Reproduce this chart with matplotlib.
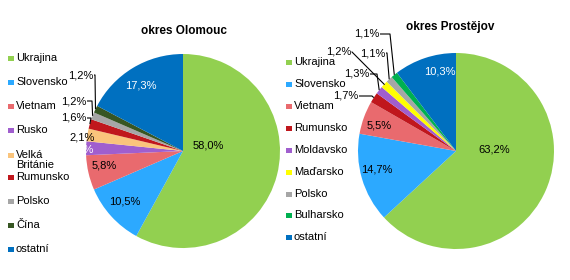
import numpy as np
import matplotlib
matplotlib.use("Agg")
import matplotlib.pyplot as plt
from matplotlib.patches import Rectangle

plt.rcParams['font.family'] = ['Liberation Sans', 'DejaVu Sans']

# okres Olomouc
olo_labels = ["Ukrajina", "Slovensko", "Vietnam", "Rusko", "Velká\nBritánie",
              "Rumunsko", "Polsko", "Čína", "ostatní"]
olo_values = [58.0, 10.5, 5.8, 2.3, 2.1, 1.6, 1.2, 1.2, 17.3]
olo_colors = ["#92D050", "#2CA9FF", "#E96A6E", "#A05ECE", "#FAC47C",
              "#C0171D", "#A6A6A6", "#375623", "#0070C0"]

# okres Prostějov
pro_labels = ["Ukrajina", "Slovensko", "Vietnam", "Rumunsko", "Moldavsko",
              "Maďarsko", "Polsko", "Bulharsko", "ostatní"]
pro_values = [63.2, 14.7, 5.5, 1.7, 1.3, 1.2, 1.1, 1.1, 10.3]
pro_colors = ["#92D050", "#2CA9FF", "#E96A6E", "#C0171D", "#A05ECE",
              "#FFFF00", "#A6A6A6", "#00B050", "#0070C0"]

W, H = 570, 280
fig = plt.figure(figsize=(W / 100, H / 100), dpi=100)
ax = fig.add_axes([0, 0, 1, 1])
ax.set_xlim(0, W)
ax.set_ylim(0, H)
ax.axis("off")


def fmt(v):
    return ("%.1f%%" % v).replace(".", ",")


def draw_pie(values, colors, cx, cy, r, inside, outside):
    # cx, cy in pixels from top-left
    wedges, _ = ax.pie(values, colors=colors, startangle=90, counterclock=False,
                       center=(cx, H - cy), radius=r,
                       wedgeprops=dict(linewidth=0))
    for i, w in enumerate(wedges):
        mid = np.deg2rad((w.theta1 + w.theta2) / 2)
        ex = cx + r * np.cos(mid)
        ey = cy - r * np.sin(mid)
        if i in inside:
            lx, ly, col = inside[i]
            ax.text(lx, H - ly, fmt(values[i]), ha="center", va="center",
                    fontsize=8, color=col)
        elif i in outside:
            lx, ly, kx, col = outside[i]
            ax.text(lx, H - ly, fmt(values[i]), ha="right", va="center",
                    fontsize=8, color=col)
            if kx is not None:
                ax.plot([lx + 1, kx, ex], [H - ly, H - ly, H - ey],
                        color="black", lw=0.8, solid_capstyle="butt")
    ax.set_aspect("auto")


def draw_legend(labels, colors, x, ys):
    for lab, col, y in zip(labels, colors, ys):
        ax.add_patch(Rectangle((x, H - y - 3), 5.5, 5.5, color=col, lw=0))
        first = y if "\n" not in lab else y + 5.5
        ax.text(x + 8, H - first, lab, ha="left", va="center", fontsize=8,
                linespacing=1.0)


olo_inside = {0: (208, 146, "black"), 1: (125, 202, "black"),
              2: (104, 166, "black"), 8: (141, 86, "white")}
olo_outside = {3: (94, 149, None, "white"), 4: (95, 137, None, "black"),
               5: (86, 118, 91, "black"), 6: (86, 101, 92, "black"),
               7: (93, 75, 95, "black")}
draw_pie(olo_values, olo_colors, 183, 151, 97, olo_inside, olo_outside)

pro_inside = {0: (494, 149, "black"), 1: (377, 170, "black"),
              2: (379, 125, "black"), 8: (440, 71, "white")}
pro_outside = {3: (358, 96, 372, "black"), 4: (369, 74, 377, "black"),
               5: (351, 51, None, "black"), 6: (385, 53, 387, "black"),
               7: (379, 34, 390, "black")}
draw_pie(pro_values, pro_colors, 456, 151, 98, pro_inside, pro_outside)

# diagonal leader for the 1,2% label in Prostějov
w_mid = np.deg2rad(90 - 360 * (sum(pro_values[:5]) + pro_values[5] / 2) / sum(pro_values))
ax.plot([352, 456 + 98 * np.cos(w_mid)], [H - 52, H - (151 - 98 * np.sin(w_mid))],
        color="black", lw=0.8)

ax.set_xlim(0, W)
ax.set_ylim(0, H)

draw_legend(olo_labels, olo_colors, 8,
            [58, 82, 106, 130, 155, 177, 201, 225, 249])
draw_legend(pro_labels, pro_colors, 286,
            [62, 84, 106, 128, 150, 172, 194, 215, 237])

ax.text(184, H - 31, "okres Olomouc", ha="center", va="center",
        fontsize=8.5, fontweight="bold")
ax.text(450, H - 27, "okres Prostějov", ha="center", va="center",
        fontsize=8.5, fontweight="bold")

fig.savefig("out.png", dpi=100)
